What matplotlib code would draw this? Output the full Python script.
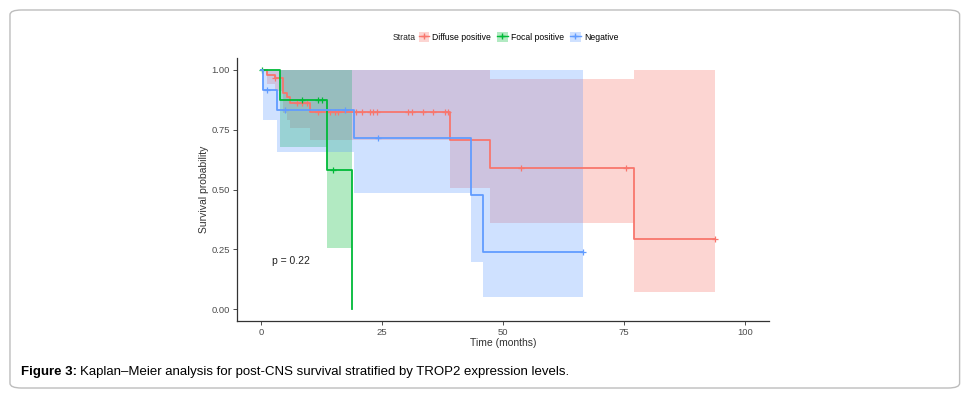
import numpy as np
import matplotlib
matplotlib.use('Agg')
import matplotlib.pyplot as plt
from matplotlib.patches import FancyBboxPatch, Patch
from matplotlib.lines import Line2D

plt.rcParams['font.family'] = ['Liberation Sans', 'DejaVu Sans']

# Kaplan-Meier steps (time in months)
strata = ['Diffuse positive', 'Focal positive', 'Negative']
colors = ['#F8766D', '#00BA38', '#619CFF']

diffuse_time = [0, 1.2, 2.9, 4.6, 5.3, 5.9, 10.1, 39.0, 47.3, 77.1, 93.8]
diffuse_surv = [1.0, 0.979, 0.965, 0.903, 0.886, 0.861, 0.823, 0.707, 0.589, 0.295, 0.295]
diffuse_lower = [1.0, 0.94, 0.91, 0.82, 0.79, 0.757, 0.707, 0.505, 0.361, 0.07, 0.07]
diffuse_upper = [1.0, 1.0, 1.0, 1.0, 1.0, 1.0, 1.0, 1.0, 0.962, 1.0, 1.0]
diffuse_censor = [2.9, 7.4, 8.4, 9.5, 11.8, 14.3, 15.3, 16.0, 19.6, 20.8, 22.5, 23.2,
                  23.9, 30.4, 31.1, 33.4, 35.6, 38.0, 38.7, 53.7, 75.4, 93.8]

focal_time = [0, 3.9, 13.7, 18.9]
focal_surv = [1.0, 0.875, 0.583, 0.0]
focal_lower = [1.0, 0.677, 0.254, 0.0]
focal_upper = [1.0, 1.0, 1.0, 0.0]
focal_censor = [0.3, 8.4, 11.8, 12.5, 14.8]

neg_time = [0, 0.5, 3.2, 19.2, 43.3, 45.8, 66.5]
neg_surv = [1.0, 0.917, 0.833, 0.714, 0.476, 0.238, 0.238]
neg_lower = [1.0, 0.79, 0.655, 0.484, 0.198, 0.049, 0.049]
neg_upper = [1.0, 1.0, 1.0, 1.0, 1.0, 1.0, 1.0]
neg_censor = [1.2, 5.0, 17.4, 24.2, 66.5]

groups = [
    (diffuse_time, diffuse_surv, diffuse_lower, diffuse_upper, diffuse_censor),
    (focal_time, focal_surv, focal_lower, focal_upper, focal_censor),
    (neg_time, neg_surv, neg_lower, neg_upper, neg_censor),
]

fig = plt.figure(figsize=(9.69, 3.95), dpi=100)

# outer frame of the figure panel
frame = FancyBboxPatch((0.0103, 0.0177), 0.980, 0.957,
                       boxstyle='round,pad=0,rounding_size=0.012',
                       transform=fig.transFigure, fc='none', ec='#bdbdbd', lw=1.0)
fig.patches.append(frame)

ax = fig.add_axes([0.2444, 0.1873, 0.5494, 0.6659])
ax.set_facecolor('none')

for (t, s, lo, up, cens), col in zip(groups, colors):
    t = np.array(t)
    s = np.array(s)
    ax.fill_between(t, lo, up, step='post', color=col, alpha=0.3, lw=0)
    ax.step(t, s, where='post', color=col, lw=1.3)
    idx = np.searchsorted(t, cens, side='right') - 1
    ax.plot(cens, s[idx], ls='none', marker='+', ms=4, mew=0.9, color=col)

ax.text(6.2, 0.2, 'p = 0.22', ha='center', va='center', fontsize=7.5, color='#222222')

ax.set_xlim(-5, 105)
ax.set_ylim(-0.05, 1.05)
ax.set_xticks([0, 25, 50, 75, 100])
ax.set_yticks([0, 0.25, 0.5, 0.75, 1.0])
ax.set_yticklabels(['0.00', '0.25', '0.50', '0.75', '1.00'])
for side in ['top', 'right']:
    ax.spines[side].set_visible(False)
for side in ['left', 'bottom']:
    ax.spines[side].set_color('#333333')
    ax.spines[side].set_linewidth(0.9)
ax.tick_params(labelsize=6.8, colors='#4d4d4d', length=3, width=0.7, pad=2)
ax.set_xlabel('Time (months)', fontsize=7.5, color='#333333', labelpad=1)
ax.set_ylabel('Survival probability', fontsize=7.5, color='#333333', labelpad=2)

# legend along the top
fig.text(0.429, 0.906, 'Strata', fontsize=6.2, ha='right', va='center', color='#222222')
handles = [(Patch(fc=c, alpha=0.3, lw=0), Line2D([], [], color=c, lw=1, marker='+', ms=4))
           for c in colors]
fig.legend(handles, strata, loc='center left', bbox_to_anchor=(0.432, 0.906), ncol=3,
           frameon=False, fontsize=6.2, handlelength=1.2, handleheight=1.3,
           handletextpad=0.4, columnspacing=0.7, borderaxespad=0, borderpad=0)

fig.text(0.022, 0.058, 'Figure 3:', fontsize=9.5, fontweight='bold', ha='left', va='center')
fig.text(0.0825, 0.058, 'Kaplan\u2013Meier analysis for post-CNS survival stratified by TROP2 expression levels.',
         fontsize=9.5, ha='left', va='center')

fig.savefig('out.png', dpi=100)
